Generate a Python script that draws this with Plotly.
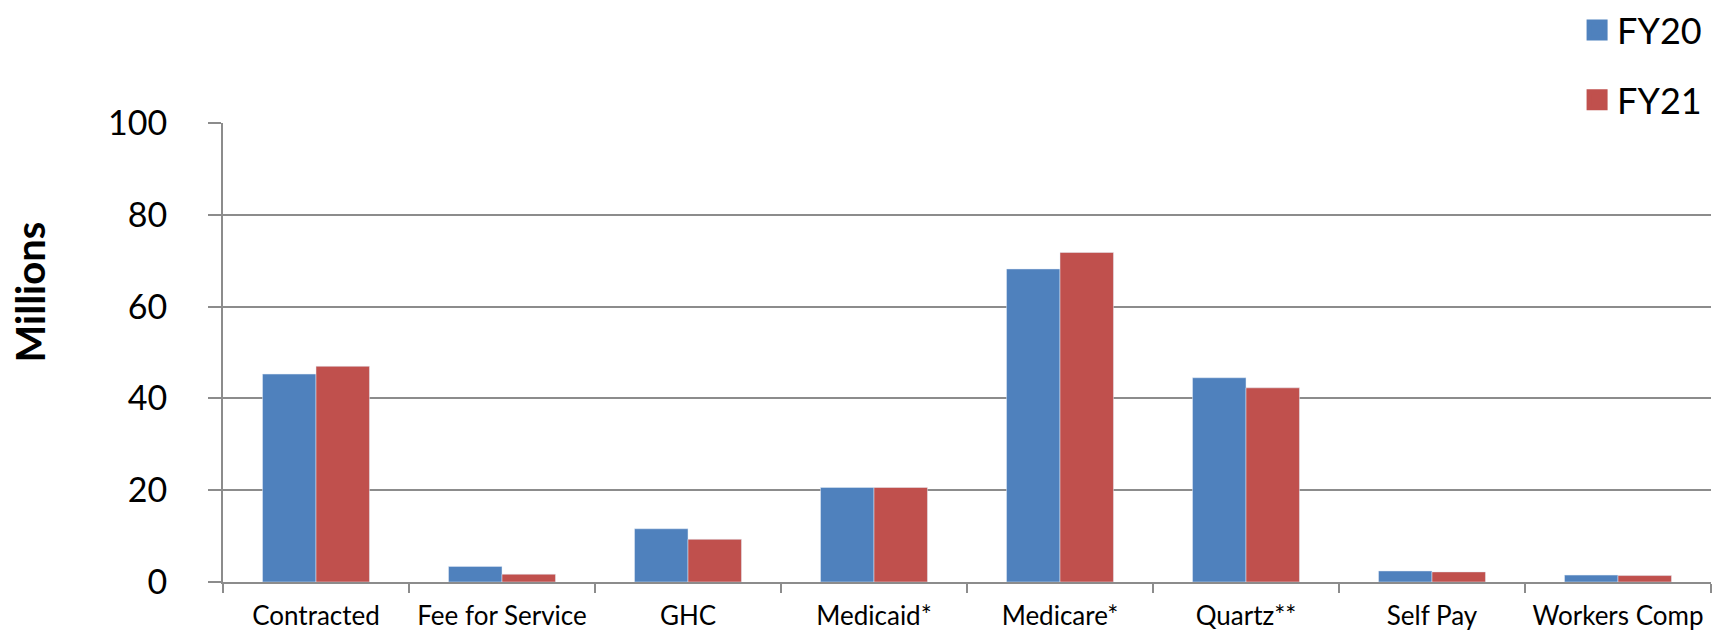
import plotly.graph_objects as go

# payer categories and revenue (millions)
categories = ["Contracted", "Fee for Service", "GHC", "Medicaid*", "Medicare*",
              "Quartz**", "Self Pay", "Workers Comp"]
fy20 = [45.3, 3.4, 11.6, 20.6, 68.2, 44.5, 2.4, 1.5]
fy21 = [47.0, 1.7, 9.3, 20.6, 71.8, 42.3, 2.2, 1.4]

BLUE = "#4F81BD"
RED = "#C0504D"
GRID = "#8c8c8c"
FONT = "Lato"

fig = go.Figure()
fig.add_trace(go.Bar(x=categories, y=fy20, name="FY20", marker_color=BLUE, showlegend=False))
fig.add_trace(go.Bar(x=categories, y=fy21, name="FY21", marker_color=RED, showlegend=False))

# legend entries with bigger square markers
fig.add_trace(go.Scatter(x=[None], y=[None], mode="markers", name="FY20", legendgroup="a",
                         marker=dict(symbol="square", size=16, color=BLUE,
                                     line=dict(color=BLUE, width=5))))
fig.add_trace(go.Scatter(x=[None], y=[None], mode="markers", name="FY21", legendgroup="b",
                         marker=dict(symbol="square", size=16, color=RED,
                                     line=dict(color=RED, width=5))))

# the page body adds an 8px offset, so the figure is 8px smaller and margins shifted
fig.update_layout(
    width=1717, height=627,
    margin=dict(l=215, r=14, t=115, b=53, autoexpand=False),
    paper_bgcolor="white", plot_bgcolor="white",
    font=dict(family=FONT, color="black"),
    barmode="group", bargap=0.425, bargroupgap=0,
    legend=dict(x=0.91, y=1.268, xref="paper", yref="paper",
                xanchor="left", yanchor="top",
                font=dict(size=36, family=FONT), itemsizing="trace",
                tracegroupgap=20, bgcolor="rgba(0,0,0,0)"),
    annotations=[dict(text="<b>Millions</b>", xref="paper", yref="paper",
                      x=-0.130, y=0.632, xanchor="center", yanchor="middle",
                      textangle=-90, showarrow=False,
                      font=dict(size=40, family=FONT))],
)

fig.update_xaxes(
    showline=True, linecolor=GRID, linewidth=2,
    ticks="outside", tickson="boundaries", ticklen=9, tickcolor=GRID, tickwidth=2,
    tickfont=dict(size=26, family=FONT), ticklabelstandoff=10, tickangle=0,
    showgrid=False, range=[-0.5, 7.5],
)
fig.update_yaxes(
    range=[0, 100], dtick=20,
    showline=True, linecolor=GRID, linewidth=2,
    ticks="outside", ticklen=13, tickcolor=GRID, tickwidth=2,
    tickfont=dict(size=34, family=FONT), ticklabelstandoff=34,
    showgrid=True, gridcolor=GRID, gridwidth=2, zeroline=False,
)

fig.write_html("out.html")
